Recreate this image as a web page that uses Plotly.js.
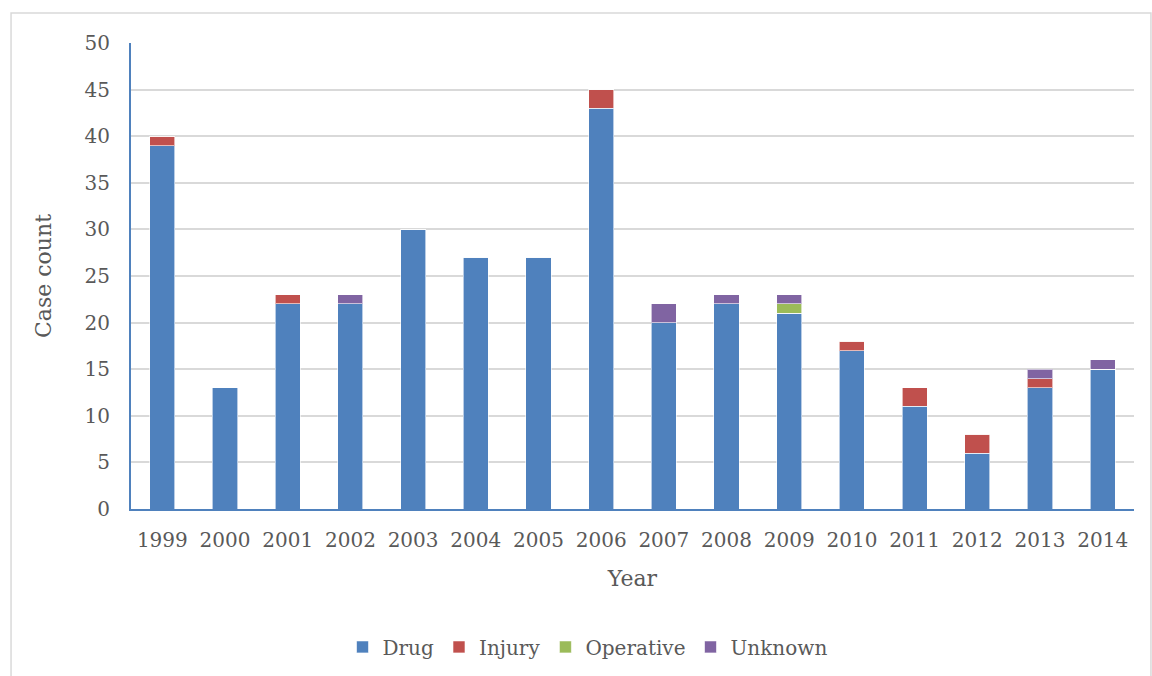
<!DOCTYPE html>
<html>
<head>
<meta charset="utf-8">
<script src="https://cdn.plot.ly/plotly-3.0.1.min.js"></script>
<style>
  html, body { margin: 0; padding: 0; background: #ffffff; }
  #chart { width: 1152px; height: 676px; }
</style>
</head>
<body>
<div id="chart"></div>
<script>
// Case counts per year, split by cause
const years = ["1999", "2000", "2001", "2002", "2003", "2004", "2005", "2006",
               "2007", "2008", "2009", "2010", "2011", "2012", "2013", "2014"];
const drug      = [39, 13, 22, 22, 30, 27, 27, 43, 20, 22, 21, 17, 11, 6, 13, 15];
const injury    = [1, 0, 1, 0, 0, 0, 0, 2, 0, 0, 0, 1, 2, 2, 1, 0];
const operative = [0, 0, 0, 0, 0, 0, 0, 0, 0, 0, 1, 0, 0, 0, 0, 0];
const unknown   = [0, 0, 0, 1, 0, 0, 0, 0, 2, 1, 1, 0, 0, 0, 1, 1];
const yTicks = [0, 5, 10, 15, 20, 25, 30, 35, 40, 45, 50];

const FONT = "DejaVu Serif, Liberation Serif, serif";
const TEXT = "#595959";

function series(name, values, color) {
  return {
    type: "bar",
    name: name,
    x: years,
    y: values,
    marker: { color: color, line: { color: "rgba(255,255,255,0.6)", width: 1 } },
    hoverinfo: "x+y+name"
  };
}

const data = [
  series("Drug", drug, "#4f81bd"),
  series("Injury", injury, "#c0504d"),
  series("Operative", operative, "#9bbb59"),
  series("Unknown", unknown, "#8064a2")
];

const layout = {
  width: 1152,
  height: 676,
  barmode: "stack",
  bargap: 0.6,
  paper_bgcolor: "#ffffff",
  plot_bgcolor: "#ffffff",
  margin: { l: 131, r: 18, t: 43, b: 167, autoexpand: false },
  font: { family: FONT, size: 20, color: TEXT },
  xaxis: {
    type: "category",
    automargin: false,
    tickangle: 0,
    showline: true,
    linecolor: "#4f81bd",
    linewidth: 2,
    ticks: "",
    ticklabelstandoff: 12,
    tickfont: { family: FONT, size: 20, color: TEXT },
    title: { text: "Year", font: { family: FONT, size: 22, color: TEXT }, standoff: 20 }
  },
  yaxis: {
    automargin: false,
    range: [0, 50],
    tickvals: yTicks,
    ticktext: yTicks.map(String),
    showline: true,
    linecolor: "#4f81bd",
    linewidth: 2,
    showgrid: true,
    gridcolor: "#d9d9d9",
    gridwidth: 2,
    zeroline: false,
    ticks: "",
    ticklabelstandoff: 15,
    tickfont: { family: FONT, size: 20, color: TEXT },
    title: { text: "Case count", font: { family: FONT, size: 22, color: TEXT }, standoff: 27 }
  },
  legend: {
    orientation: "h",
    xref: "container",
    yref: "container",
    x: 0.510,
    xanchor: "center",
    y: 0.043,
    yanchor: "middle",
    font: { family: FONT, size: 20, color: TEXT },
    traceorder: "normal"
  },
  shapes: [{
    type: "rect",
    xref: "paper", yref: "paper",
    x0: -0.1196, x1: 1.0169, y0: -0.4, y1: 1.0644,
    line: { color: "#d9d9d9", width: 1.5 },
    fillcolor: "rgba(0,0,0,0)",
    layer: "below"
  }],
  showlegend: true
};

Plotly.newPlot("chart", data, layout, { displayModeBar: false, staticPlot: true });
</script>
</body>
</html>
